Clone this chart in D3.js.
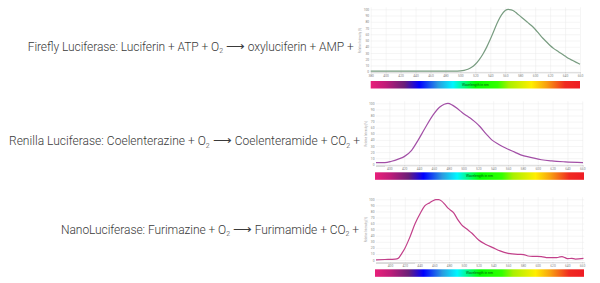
<!DOCTYPE html>
<html>
<head>
<meta charset="utf-8">
<script src="https://cdn.jsdelivr.net/npm/d3@7"></script>
<style>
  body { margin: 0; background: #fff; }
  svg { display: block; }
</style>
</head>
<body>
<svg id="fig" width="600" height="283"></svg>
<script>
// emission spectra (nm, relative intensity %)
const fireflyNm  = [380, 400, 420, 440, 460, 480, 490, 500, 505, 510, 515, 520, 525, 530, 535, 540, 545, 550, 555, 560, 564, 568, 572, 576, 580, 585, 590, 595, 600, 605, 610, 615, 620, 625, 630, 635, 640, 645, 650, 655, 660]
const fireflyVal = [0.8, 0.8, 0.8, 0.8, 0.8, 0.8, 0.9, 1.3, 2.2, 4, 7, 12, 19, 28, 39, 52, 66, 80, 91, 98, 100, 99, 97, 93, 89, 84, 79, 74, 68, 61, 54, 48, 42, 37, 33, 29, 25, 21, 18, 15, 12]

const renillaNm  = [382, 394, 403, 412, 420, 430, 439, 448, 459, 468, 474, 479, 485, 492, 498, 505, 511, 517, 522, 531, 538, 547, 558, 569, 577, 592, 605, 619, 637, 661]
const renillaVal = [2.7, 2.7, 5, 8.5, 12.6, 23, 40, 59, 81, 94, 98.5, 100, 97, 91, 85, 79, 74, 68, 62, 49, 40, 33, 26, 20, 15.5, 11, 7.5, 5.5, 4, 2.7]

const nanoNm  = [381, 393, 407, 411, 416, 420, 427, 434, 441, 447, 454, 458, 462, 466, 470, 474, 479, 486, 492, 497, 504, 511, 520, 529, 540, 549, 560, 574, 581, 587, 596, 605, 614, 626, 630, 633, 637, 641, 646, 651, 662]
const nanoVal = [0.2, 0.8, 1.6, 2.7, 11, 19, 38, 60, 77, 89, 94.5, 97.5, 99.5, 99.5, 97, 92, 85, 78, 66, 58, 51, 44, 33, 26, 20, 15, 11, 9.3, 9, 6.6, 6, 5.5, 3.8, 3.8, 5, 5.5, 3.8, 2.2, 2.7, 1.6, 2.7]

const xTickLabels = [380, 400, 420, 440, 460, 480, 500, 520, 540, 560, 580, 600, 620, 640, 660]
const yTickLabels = [0, 10, 20, 30, 40, 50, 60, 70, 80, 90, 100]

// colour bar under each plot
const spectrumNm    = [380, 400, 425, 445, 470, 490, 520, 550, 565, 595, 615, 640, 660]
const spectrumColor = ["#e8207a", "#c01c78", "#6a1f78", "#0000ff", "#2a9ae0", "#00f6ff", "#00ff00", "#33ff00", "#a8f000", "#ffee00", "#f8a010", "#f02a20", "#ee1c24"]

// 0 = normal, 1 = subscript, 2 = arrow
const equations = [
  [["Firefly Luciferase: Luciferin + ATP + O", 0], ["2", 1], [" ", 0], ["\u27F6", 2], [" oxyluciferin + AMP +", 0]],
  [["Renilla Luciferase: Coelenterazine + O", 0], ["2", 1], [" ", 0], ["\u27F6", 2], [" Coelenteramide + CO", 0], ["2", 1], [" +", 0]],
  [["NanoLuciferase: Furimazine + O", 0], ["2", 1], [" ", 0], ["\u27F6", 2], [" Furimamide + CO", 0], ["2", 1], [" +", 0]]
]

const panels = [
  {nm: fireflyNm, val: fireflyVal, color: "#789c80", dom: [380, 660], x0: 370.7, x1: 580, y0: 71.7, y1: 9.3,
   axisY: 72.3, barY: 81, textX: 27.7, textY: 50.5, textW: 326, firstTick: 380},
  {nm: renillaNm, val: renillaVal, color: "#a24fa6", dom: [382, 661], x0: 376, x1: 583, y0: 164.3, y1: 103.3,
   axisY: 165.3, barY: 172.3, textX: 9, textY: 145, textW: 351, firstTick: 400},
  {nm: nanoNm, val: nanoVal, color: "#c2408a", dom: [381, 663], x0: 376, x1: 584.2, y0: 260, y1: 199.3,
   axisY: 262.3, barY: 269.3, textX: 61, textY: 233.5, textW: 298, firstTick: 400}
]

const svg = d3.select("#fig")

// one gradient shared by all colour bars
let grad = svg.append("defs").append("linearGradient")
  .attr("id", "spec")
  .attr("x1", "0%").attr("x2", "100%")
grad.selectAll("stop")
  .data(spectrumNm)
  .enter().append("stop")
  .attr("offset", d => ((d - 380) / 280 * 100) + "%")
  .attr("stop-color", (d, i) => spectrumColor[i])

panels.forEach((p, k) => {
  let x = d3.scaleLinear().domain(p.dom).range([p.x0, p.x1])
  let y = d3.scaleLinear().domain([0, 100]).range([p.y0, p.y1])
  let g = svg.append("g")

  let ticks = xTickLabels.filter(t => t >= p.firstTick)

  // grid
  g.append("g")
    .attr("transform", "translate(0," + p.y0 + ")")
    .call(d3.axisBottom(x).tickValues(ticks).tickSize(-(p.y0 - p.y1 + 2)).tickFormat(""))
    .call(a => a.select(".domain").remove())
    .selectAll("line").attr("stroke", "#ebebeb").attr("stroke-width", 0.5)
  g.append("g")
    .attr("transform", "translate(" + p.x0 + ",0)")
    .call(d3.axisLeft(y).tickValues(yTickLabels).tickSize(-(p.x1 - p.x0)).tickFormat(""))
    .call(a => a.select(".domain").remove())
    .selectAll("line").attr("stroke", "#ebebeb").attr("stroke-width", 0.5)

  // y tick labels
  let yAx = g.append("g")
    .attr("transform", "translate(" + p.x0 + ",0)")
    .call(d3.axisLeft(y).tickValues(yTickLabels).tickSize(0).tickPadding(1.5))
  yAx.select(".domain").remove()
  yAx.selectAll("text").attr("font-size", 3.3).attr("fill", "#888").attr("font-family", "Roboto")

  g.append("text")
    .attr("transform", "translate(" + (p.x0 - 9.5) + "," + ((p.y0 + p.y1) / 2) + ") rotate(-90)")
    .attr("text-anchor", "middle")
    .attr("font-size", 2.8)
    .attr("font-family", "Roboto")
    .attr("fill", "#999")
    .text("Relative Intensity [%]")

  // x axis
  let xAx = g.append("g")
    .attr("transform", "translate(0," + p.axisY + ")")
    .call(d3.axisBottom(x).tickValues(ticks).tickSize(1).tickPadding(1.5))
  xAx.select(".domain").attr("stroke", "#bbb").attr("stroke-width", 0.6)
  xAx.selectAll("line").attr("stroke", "#bbb").attr("stroke-width", 0.5)
  xAx.selectAll("text").attr("font-size", 3.3).attr("fill", "#888").attr("font-family", "Roboto")

  if (k > 0) {
    // little grey scroller under the axis
    g.append("rect")
      .attr("x", p.x0).attr("y", p.axisY + 0.3)
      .attr("width", k == 2 ? 39 : 9).attr("height", 1.3)
      .attr("fill", "#d8d8d8")
  }

  // spectrum curve
  let line = d3.line()
    .x((d, i) => x(p.nm[i]))
    .y(d => y(d))
    .curve(d3.curveMonotoneX)
  g.append("path")
    .datum(p.val)
    .attr("d", line)
    .attr("fill", "none")
    .attr("stroke", p.color)
    .attr("stroke-width", 1.2)
    .attr("stroke-linejoin", "round")

  // colour bar
  let bx0 = k == 0 ? p.x0 : 375
  let bx1 = k == 0 ? p.x1 : 584
  g.append("rect")
    .attr("x", bx0).attr("y", p.barY)
    .attr("width", bx1 - bx0).attr("height", 7.5)
    .attr("fill", "url(#spec)")
  g.append("text")
    .attr("x", (bx0 + bx1) / 2).attr("y", p.barY + 5)
    .attr("text-anchor", "middle")
    .attr("font-size", 3.4)
    .attr("font-family", "Roboto")
    .attr("fill", "#0a5a10")
    .text("Wavelength in nm")

  // reaction equation
  let t = svg.append("text")
    .attr("x", p.textX).attr("y", p.textY)
    .attr("font-family", "Roboto")
    .attr("font-weight", 300)
    .attr("font-size", 12)
    .attr("fill", "#3a3a3a")
    .attr("textLength", p.textW)
  let shifted = 0
  equations[k].forEach(s => {
    let ts = t.append("tspan").text(s[0])
    let dy = 0
    if (s[1] == 1) { ts.attr("font-size", 7); dy = 2.5 }
    if (s[1] == 2) ts.attr("font-family", "DejaVu Sans").attr("font-size", 13)
    ts.attr("dy", dy - shifted)
    shifted = dy
  })
})
</script>
</body>
</html>
